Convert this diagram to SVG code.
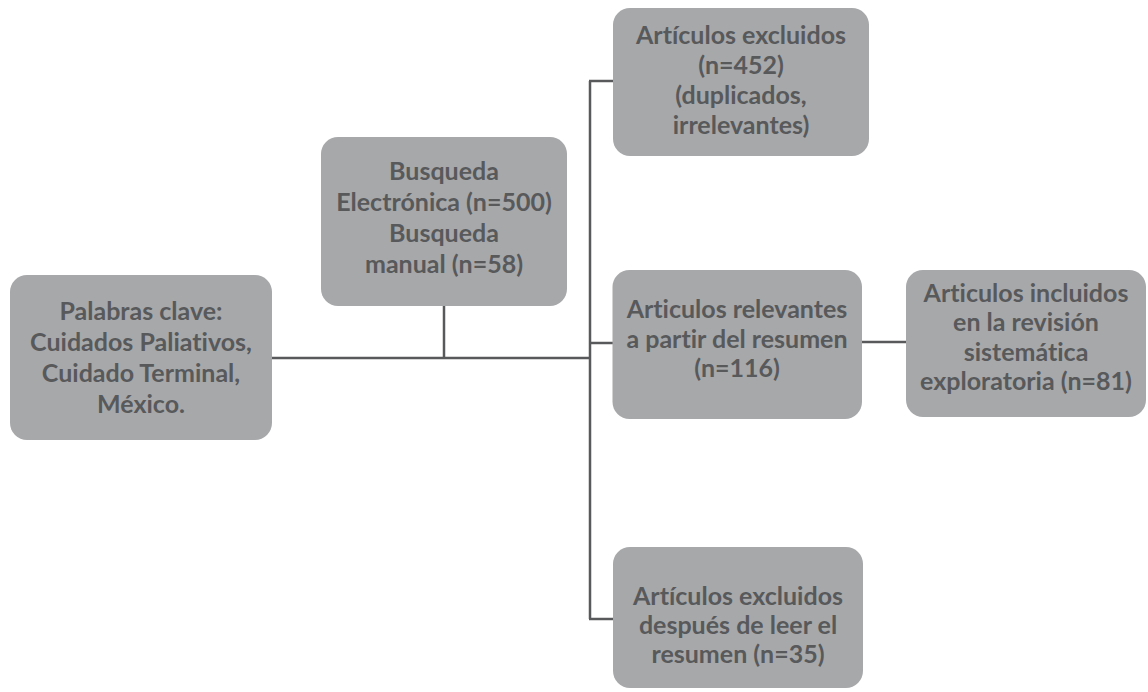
<svg xmlns="http://www.w3.org/2000/svg" width="1148" height="692" viewBox="0 0 1148 692">
<style>
.box{fill:#a7a8aa;}
.t{font-family:Lato,"Open Sans","DejaVu Sans",sans-serif;font-weight:700;font-size:25px;fill:#58595b;text-anchor:middle;font-variant-ligatures:none;font-feature-settings:"liga" 0;}
.c{fill:none;stroke:#58595b;stroke-width:2.5;}
</style>
<rect width="1148" height="692" fill="#ffffff"/>
<g id="connectors">
<path class="c" d="M272 358 H590"/>
<path class="c" d="M444 306 V358"/>
<path class="c" d="M590 81 V619"/>
<path class="c" d="M589 81 H613"/>
<path class="c" d="M590 343 H613"/>
<path class="c" d="M589 619 H613"/>
<path class="c" d="M861 342 H906"/>
</g>
<g id="n1">
<rect class="box" x="10" y="275" width="262" height="165" rx="17"/>
<text class="t" x="141" y="320">Palabras clave:</text>
<text class="t" x="141" y="351">Cuidados Paliativos,</text>
<text class="t" x="141" y="382">Cuidado Terminal,</text>
<text class="t" x="141" y="413">México.</text>
</g>
<g id="n2">
<rect class="box" x="321" y="137" width="246" height="169" rx="17"/>
<text class="t" x="444" y="180">Busqueda</text>
<text class="t" x="444" y="211">Electrónica (n=500)</text>
<text class="t" x="444" y="242">Busqueda</text>
<text class="t" x="444" y="273">manual (n=58)</text>
</g>
<g id="n3">
<rect class="box" x="613" y="8" width="256" height="148" rx="17"/>
<text class="t" x="741" y="44">Artículos excluidos</text>
<text class="t" x="741" y="74">(n=452)</text>
<text class="t" x="741" y="104">(duplicados,</text>
<text class="t" x="741" y="134">irrelevantes)</text>
</g>
<g id="n4">
<rect class="box" x="612.5" y="270" width="249.5" height="149" rx="17"/>
<text class="t" x="737" y="318">Articulos relevantes</text>
<text class="t" x="737" y="348">a partir del resumen</text>
<text class="t" x="737" y="377">(n=116)</text>
</g>
<g id="n5">
<rect class="box" x="906" y="270" width="240" height="147" rx="17"/>
<text class="t" x="1026" y="302">Articulos incluidos</text>
<text class="t" x="1026" y="331">en la revisión</text>
<text class="t" x="1026" y="361">sistemática</text>
<text class="t" x="1026" y="390">exploratoria (n=81)</text>
</g>
<g id="n6">
<rect class="box" x="613" y="547" width="250" height="141" rx="17"/>
<text class="t" x="738" y="605">Artículos excluidos</text>
<text class="t" x="738" y="634">después de leer el</text>
<text class="t" x="738" y="663">resumen (n=35)</text>
</g>
</svg>
